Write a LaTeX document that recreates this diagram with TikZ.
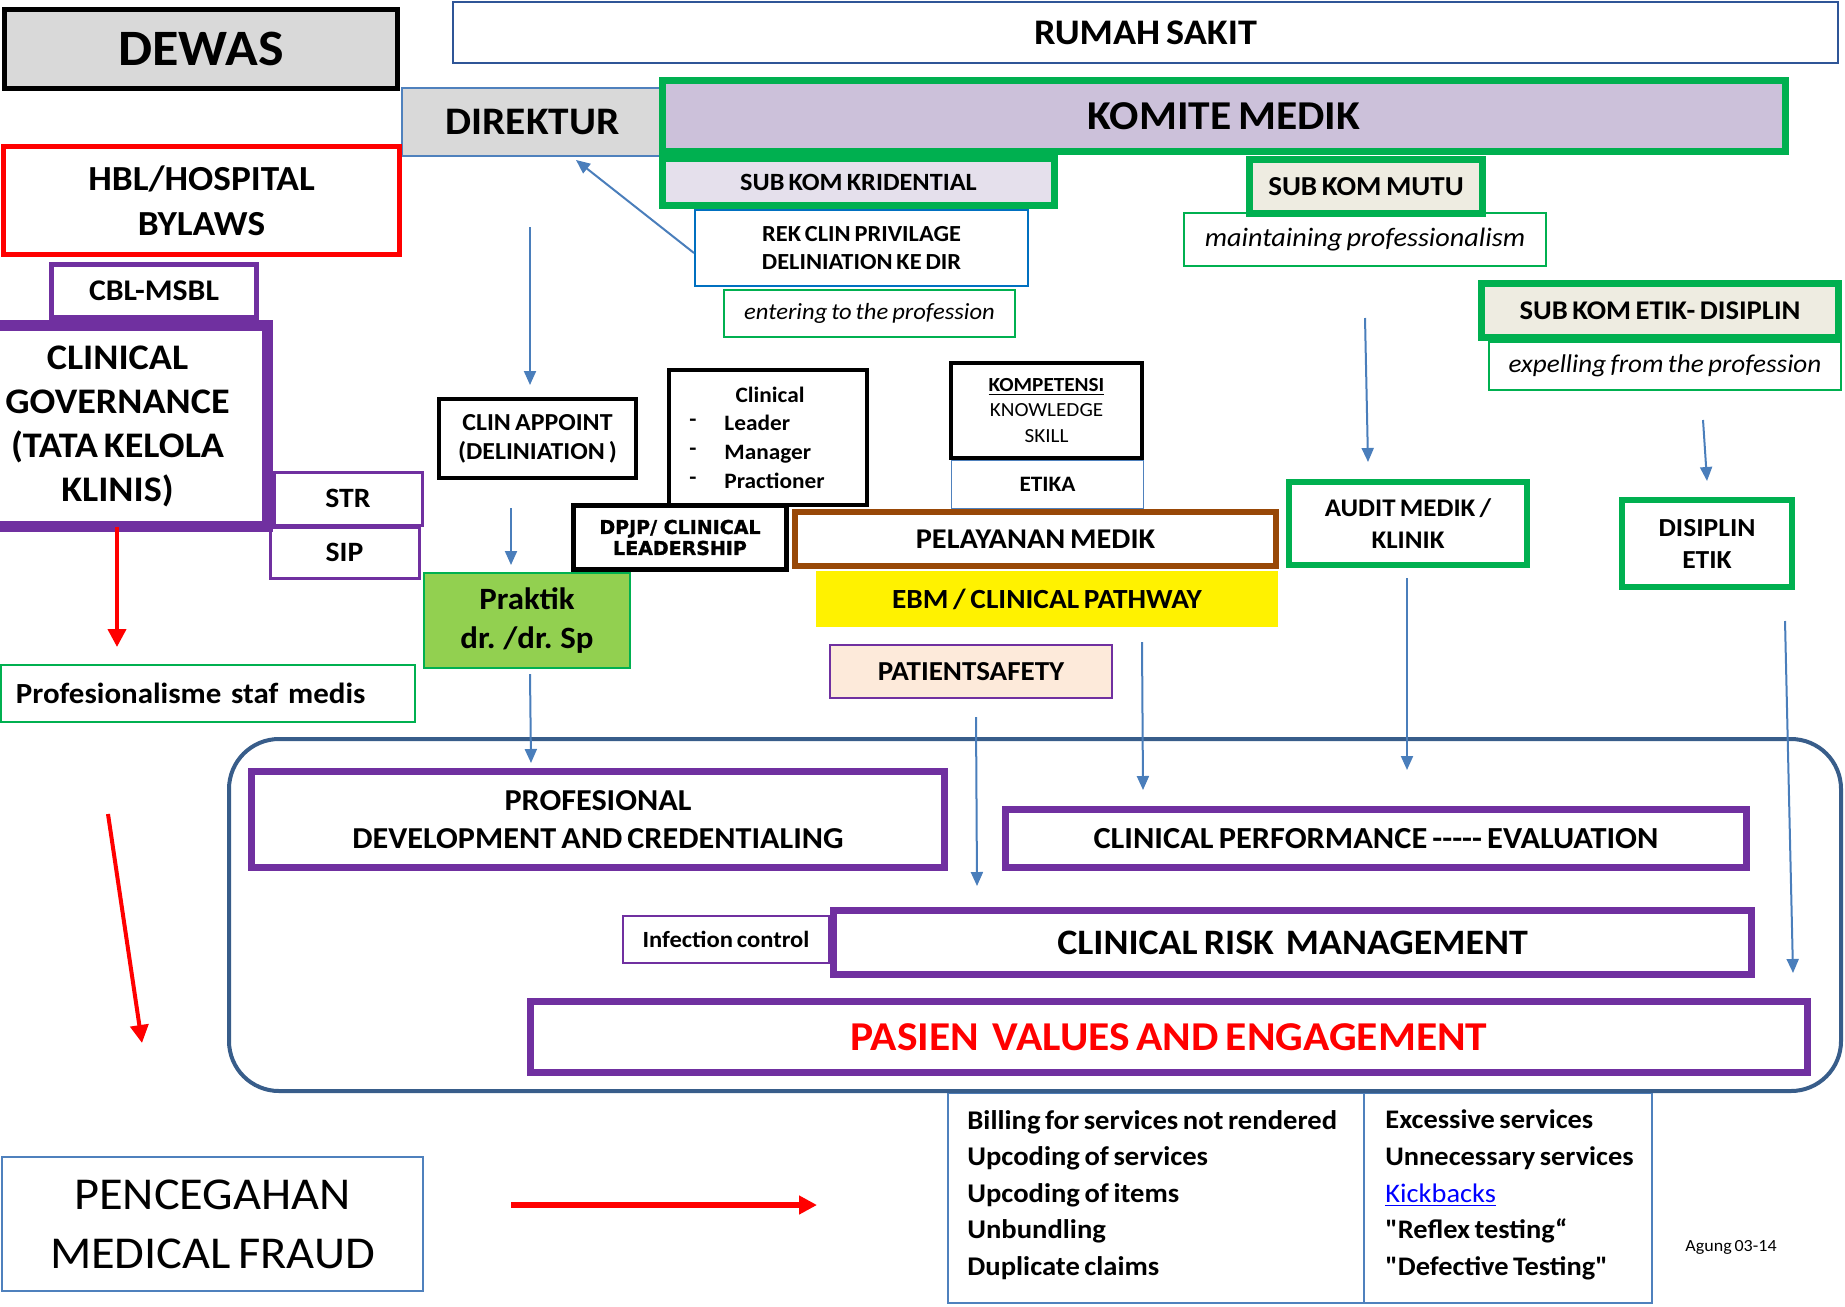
\documentclass[tikz,border=0pt]{standalone}
\usepackage{fontspec}
\setmainfont[FakeStretch=1.06,WordSpace=0.7]{Carlito}
\newfontfamily\plainfont[FakeStretch=1.06,WordSpace=0.7]{Carlito}
\newfontfamily\dpjpfont[BoldFeatures={FakeBold=1.5}]{DejaVu Sans}
\usetikzlibrary{arrows.meta}
\newcommand\fsz[2]{\fontsize{#1}{#2}\selectfont}
\definecolor{cpurple}{HTML}{7030A0}
\definecolor{cgreen}{HTML}{00B050}
\definecolor{carrow}{HTML}{4A7EBB}
\definecolor{cframe}{HTML}{385D8A}
\definecolor{cbrown}{HTML}{984807}
\definecolor{cpraktik}{HTML}{92D050}
\definecolor{cpeach}{HTML}{FDEADA}
\definecolor{ckomite}{HTML}{CCC1DA}
\definecolor{ckrid}{HTML}{E5E0EC}
\definecolor{cmutu}{HTML}{EEECE1}
\definecolor{cgray}{HTML}{D9D9D9}
\definecolor{clblue}{HTML}{4F81BD}
\definecolor{cblue}{HTML}{0070C0}
\definecolor{cdblue}{HTML}{2F5597}
\tikzset{
  bxs/.style={draw, inner sep=0pt, align=center},
  barrow/.style={draw=carrow, line width=1pt, -{Triangle[length=7pt,width=6pt]}},
  rarrow/.style={draw=red, line width=2pt, -{Triangle[length=9pt,width=9pt]}},
  pthick/.style={draw=cpurple, line width=3.5pt},
  gthick/.style={draw=cgreen, line width=3.5pt},
  gthin/.style={draw=cgreen, line width=1pt},
  kthick/.style={draw=black, line width=2pt},
}
% \bx[options]{name}{x1}{y1}{x2}{y2}{text}  (pixel coordinates of the border line)
\newcommand\bx[7][]{%
  \pgfmathsetmacro\bxcx{(#3+#5)/2}\pgfmathsetmacro\bxcy{(#4+#6)/2}%
  \pgfmathsetmacro\bxw{abs(#5-#3)*0.5}\pgfmathsetmacro\bxh{abs(#6-#4)*0.5}%
  \node[bxs,minimum width=\bxw pt,minimum height=\bxh pt,#1] (#2) at (\bxcx,\bxcy) {#7};}
\begin{document}
\begin{tikzpicture}[x=0.5pt,y=-0.5pt]
\useasboundingbox (0,0) rectangle (1845,1306);
% bottom table and frame
\bx[draw=clblue,line width=1pt]{tabL}{948}{1093}{1364}{1303}{}
\bx[draw=clblue,line width=1pt]{tabR}{1364}{1093}{1652}{1303}{}
\bx[draw=cframe,line width=2pt,rounded corners=25pt]{frame}{229}{739}{1841}{1091}{}
% top row
\bx[draw=cdblue,line width=1pt,font=\fsz{18}{22}\bfseries]{rs}{453}{2}{1838}{63}{RUMAH SAKIT}
\bx[draw=black,line width=2.5pt,fill=cgray,font=\fsz{25.5}{30}\bfseries]{dewas}{4.5}{9.5}{397.5}{88.5}{DEWAS}
\bx[draw=clblue,line width=0.75pt,fill=cgray,font=\fsz{19.5}{23}\bfseries]{dir}{402}{88}{663}{156}{DIREKTUR}
\bx[gthick,fill=ckomite,font=\fsz{20.5}{24}\bfseries]{komite}{662.5}{80.5}{1785.5}{151.5}{KOMITE MEDIK}
\bx[draw=cblue,line width=1pt,font=\fsz{11.5}{14}\bfseries]{rek}{695}{210}{1028}{286}{REK CLIN PRIVILAGE\\DELINIATION KE DIR}
\bx[gthick,fill=ckrid,font=\fsz{12.4}{14}\bfseries]{krid}{662.5}{158.5}{1054.5}{205.5}{SUB KOM KRIDENTIAL}
\bx[gthin,font=\fsz{11.6}{13}\itshape]{enter}{724}{290}{1015}{337}{entering to the profession}
\bx[gthin,font=\fsz{13.3}{15}\itshape]{maint}{1184}{213}{1546}{266}{maintaining professionalism}
\bx[gthick,fill=cmutu,font=\fsz{13.7}{15}\bfseries]{mutu}{1249.5}{159.5}{1482.5}{213.5}{SUB KOM MUTU}
\bx[gthin,font=\fsz{12.8}{15}\itshape]{expel}{1489}{342}{1841}{390}{expelling from the profession}
\bx[gthick,fill=cmutu,font=\fsz{13.5}{15}\bfseries]{etik}{1481.5}{283.5}{1838.5}{337.5}{SUB KOM ETIK- DISIPLIN}
% left column
\bx[draw=red,line width=2.5pt,font=\fsz{17.6}{22.5}\bfseries]{hbl}{3.5}{146.5}{399.5}{254.5}{HBL/HOSPITAL\\BYLAWS}
\bx[draw=cpurple,line width=1.5pt,font=\fsz{14}{16}\bfseries]{sip}{270}{527}{419}{578}{SIP}
\bx[draw=cpurple,line width=1.5pt,font=\fsz{14}{16}\bfseries]{str}{274}{472}{422}{525}{STR}
\bx[draw=cpurple,line width=5.5pt,font=\fsz{18}{22}\bfseries]{cg}{-32.5}{325.5}{267.5}{526.5}{CLINICAL\\GOVERNANCE\\(TATA KELOLA\\KLINIS)}
\bx[draw=cpurple,line width=2.5pt,font=\fsz{15}{18}\bfseries]{cbl}{51.5}{264.5}{256.5}{317.5}{CBL-MSBL}
\bx[gthin,text width=192pt,align=left,font=\fsz{14.6}{17}\bfseries]{prof}{1}{665}{415}{722}{Profesionalisme staf medis}
% middle
\bx[kthick,font=\fsz{12.2}{14.5}\bfseries]{clinapp}{439}{399}{636}{478}{CLIN APPOINT\\(DELINIATION )}
\bx[draw=cgreen,line width=1pt,fill=cpraktik,font=\fsz{15.5}{19.5}\bfseries]{praktik}{424}{573}{630}{668}{Praktik\\dr. /dr. Sp}
\bx[kthick]{clinbox}{669}{370}{867}{505}{}
\node[inner sep=0pt,font=\fsz{11}{14.5}\bfseries] (clinT) at (770,395) {Clinical};
\node[anchor=west,align=left,inner sep=0pt,font=\fsz{11}{14.5}\bfseries] (clinB) at (689,452) {-\\-\\-};
\node[anchor=west,align=left,inner sep=0pt,font=\fsz{11}{14.5}\bfseries] (clinI) at (724,452) {Leader\\Manager\\Practioner};
\bx[draw=clblue,line width=0.75pt,font=\fsz{11}{13}\bfseries]{etika}{951.5}{460.5}{1143.5}{508.5}{ETIKA}
\bx[draw=black,line width=2.25pt,font=\fsz{10}{12.75}]{komp}{951}{363}{1142}{458}{\textbf{\underline{KOMPETENSI}}\\KNOWLEDGE\\SKILL}
\bx[draw=black,line width=2.5pt,font=\fsz{9.5}{10.5}\dpjpfont\bfseries]{dpjp}{573.5}{505.5}{786.5}{569.5}{DPJP/ CLINICAL\\LEADERSHIP}
\bx[draw=cbrown,line width=3pt,font=\fsz{14.3}{16}\bfseries]{pel}{795}{512}{1276}{566}{PELAYANAN MEDIK}
\bx[draw=none,fill=yellow,font=\fsz{13.85}{16}\bfseries]{ebm}{816}{571}{1278}{627}{EBM / CLINICAL PATHWAY}
\bx[draw=cpurple,line width=1pt,fill=cpeach,font=\fsz{13.7}{16}\bfseries]{ps}{830}{645}{1112}{698}{PATIENTSAFETY}
\bx[draw=cgreen,line width=3pt,font=\fsz{12.7}{16}\bfseries]{audit}{1289}{482}{1527}{565}{AUDIT MEDIK /\\KLINIK}
\bx[draw=cgreen,line width=3pt,font=\fsz{13}{16}\bfseries]{disip}{1622}{500}{1792}{587}{DISIPLIN\\ETIK}
% inside frame
\bx[pthick,font=\fsz{15.2}{19}\bfseries]{pdc}{251.5}{771.5}{944.5}{867.5}{PROFESIONAL\\DEVELOPMENT AND CREDENTIALING}
\bx[pthick,font=\fsz{15.3}{17}\bfseries]{cpe}{1005.5}{809.5}{1746.5}{867.5}{{\plainfont\bfseries CLINICAL PERFORMANCE ----- EVALUATION}}
\bx[draw=cpurple,line width=1pt,font=\fsz{11.6}{13}\bfseries]{inf}{623}{916}{829}{963}{Infection control}
\bx[pthick,font=\fsz{17.9}{20}\bfseries]{crm}{833.5}{910.5}{1751.5}{974.5}{CLINICAL RISK\ \ MANAGEMENT}
\bx[pthick,font=\fsz{20.5}{24}\bfseries,text=red]{pve}{530.5}{1001.5}{1807.5}{1072.5}{PASIEN\ \ VALUES AND ENGAGEMENT}
% bottom
\bx[draw=clblue,line width=1pt,font=\fsz{22.8}{29.4}]{pmf}{2}{1157}{423}{1291}{PENCEGAHAN\\MEDICAL FRAUD}
\node[anchor=west,align=left,inner sep=0pt,font=\fsz{13.5}{18.3}\bfseries] (tabLt) at (967,1195) {Billing for services not rendered\\Upcoding of services\\Upcoding of items\\Unbundling\\Duplicate claims};
\node[anchor=west,align=left,inner sep=0pt,font=\fsz{13.4}{18.3}\plainfont\bfseries] (tabRt) at (1385,1195) {Excessive services\\Unnecessary services\\{\color{blue}\mdseries\underline{Kickbacks}}\\"Reflex testing“\\"Defective Testing"};
\node[inner sep=0pt,font=\fsz{8.5}{10}] (agung) at (1731,1247) {Agung 03-14};
% connector end points
\coordinate (r1) at (694,253); \coordinate (r2) at (576,160);
\coordinate (a1) at (530,227); \coordinate (a2) at (530,385);
\coordinate (b1) at (511,508); \coordinate (b2) at (511,565);
\coordinate (c1) at (530,674); \coordinate (c2) at (531,763);
\coordinate (d1) at (1365,318); \coordinate (d2) at (1368,462);
\coordinate (e1) at (1703,420); \coordinate (e2) at (1707,481);
\coordinate (f1) at (976,717); \coordinate (f2) at (977,886);
\coordinate (g1) at (1142,642); \coordinate (g2) at (1143,790);
\coordinate (h1) at (1407,578); \coordinate (h2) at (1407,770);
\coordinate (i1) at (1785,621); \coordinate (i2) at (1793,973);
\coordinate (x1) at (117,527); \coordinate (x2) at (117,647);
\coordinate (y1) at (108,814); \coordinate (y2) at (142,1043);
\coordinate (z1) at (511,1205); \coordinate (z2) at (817,1205);
\draw[barrow] (r1) -- (r2);
\draw[barrow] (a1) -- (a2);
\draw[barrow] (b1) -- (b2);
\draw[barrow] (c1) -- (c2);
\draw[barrow] (d1) -- (d2);
\draw[barrow] (e1) -- (e2);
\draw[barrow] (f1) -- (f2);
\draw[barrow] (g1) -- (g2);
\draw[barrow] (h1) -- (h2);
\draw[barrow] (i1) -- (i2);
\draw[rarrow] (x1) -- (x2);
\draw[rarrow] (y1) -- (y2);
\draw[rarrow,line width=3pt] (z1) -- (z2);
\end{tikzpicture}
\end{document}
